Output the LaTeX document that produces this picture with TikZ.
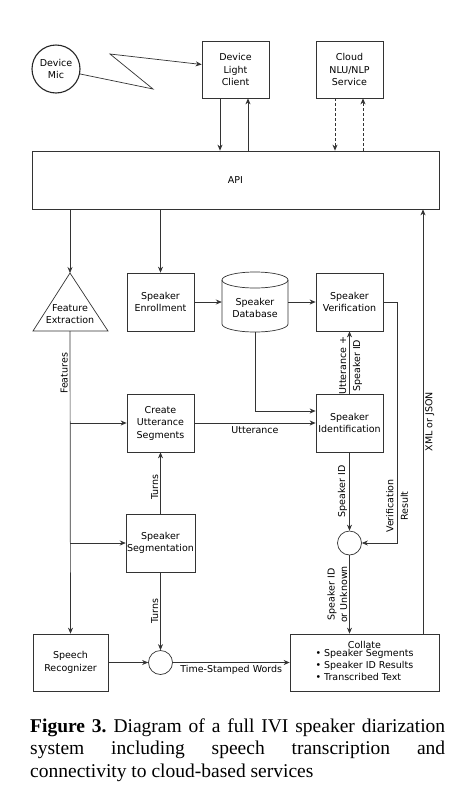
\documentclass[tikz,border=0pt]{standalone}
\usepackage{fontspec}
\setmainfont{Liberation Serif}
\newfontfamily\diagfont{DejaVu Sans}
\usetikzlibrary{arrows.meta,calc}
\tikzset{
  conn/.style={draw=black!80, line width=0.7pt},
  arr/.style={conn, -{Stealth[length=6pt,width=5pt]}},
  dasharr/.style={arr, dash pattern=on 3pt off 2pt},
  box/.style={draw=black!80, line width=0.7pt, minimum width=67pt, minimum height=58pt, align=center, inner sep=1pt},
  joint/.style={circle, draw=black!80, line width=0.7pt, minimum size=24pt, inner sep=0pt},
  lbl/.style={inner sep=2pt},
}
\begin{document}
\begin{tikzpicture}[x=1pt,y=-1pt, font=\diagfont\fontsize{9.5}{12.5}\selectfont]
\useasboundingbox[fill=white] (0,0) rectangle (474,793);

% top row
\node[circle, draw=black!85, line width=1.1pt, minimum size=48pt, inner sep=0pt, align=center] (mic) at (56,69) {Device\\Mic};
\node[box, minimum height=57pt] (dlc) at (235.5,69.5) {Device\\Light\\Client};
\node[box, minimum height=57pt] (cloud) at (349.5,69.5) {Cloud\\NLU/NLP\\Service};
\coordinate (z1) at (153,89);
\coordinate (z2) at (110,54);
\draw[arr] (mic) -- (z1) -- (z2) -- ($(dlc.west)+(0,-5)$);

% API
\node[box, minimum width=407pt, minimum height=58pt] (api) at (235.5,180) {API};

\draw[arr] ([xshift=-15.5pt]dlc.south) -- ([xshift=-15.5pt]dlc.south |- api.north);
\draw[arr] ([xshift=12.5pt]dlc.south |- api.north) -- ([xshift=12.5pt]dlc.south);
\draw[dasharr] ([xshift=-14.5pt]cloud.south) -- ([xshift=-14.5pt]cloud.south |- api.north);
\draw[dasharr] ([xshift=13.5pt]cloud.south |- api.north) -- ([xshift=13.5pt]cloud.south);

% feature extraction triangle
\coordinate (feTop) at (70,273);
\coordinate (feBot) at (70,331);
\draw[conn] (feTop) -- (108,331) -- (33,331) -- cycle;
\node[align=center, inner sep=0pt] (fe) at (70,314) {Feature\\Extraction};

% second row
\node[box] (enroll) at (160.5,302) {Speaker\\Enrollment};
\node[minimum width=66pt, minimum height=60pt, inner sep=0pt] (db) at (255,302) {};
\draw[conn] (222,280) -- (222,324) arc[start angle=180, end angle=0, x radius=33, y radius=8] -- (288,280);
\draw[conn] (255,280) ellipse [x radius=33, y radius=8];
\node[align=center, inner sep=0pt] (dbt) at (255,308) {Speaker\\Database};
\node[box] (ver) at (349.5,302) {Speaker\\Verification};

\draw[arr] (api.south -| feTop) -- (feTop);
\draw[arr] (api.south -| enroll.north) -- (enroll.north);
\draw[arr] (enroll.east) -- (db.west);
\draw[arr] (db.east) -- (ver.west);

% third row
\node[box] (cus) at (160.5,423) {Create\\Utterance\\Segments};
\node[box] (ident) at (349.5,423) {Speaker\\Identification};
\draw[arr] (ident.north) -- node[lbl, rotate=90, anchor=south, pos=.45, inner sep=3pt] {Utterance +}
                                node[lbl, rotate=90, anchor=north, pos=.45, inner sep=3pt] {Speaker ID} (ver.south);
\draw[arr] (db.south) |- ([yshift=12pt]ident.west);
\draw[arr] (cus.east) -- node[lbl, below, yshift=-1pt] {Utterance} (ident.west);

% segmentation
\node[box] (seg) at (160.5,543) {Speaker\\Segmentation};
\draw[arr] (seg.north) -- node[lbl, rotate=90, anchor=south, pos=.43] {Turns} (cus.south);

% joints
\node[joint] (c2) at (349.5,543) {};
\node[joint] (c1) at (160.5,662.5) {};
\draw[arr] (ident.south) -- node[lbl, rotate=90, anchor=south, pos=.5] {Speaker ID} (c2.north);
\draw[arr] (ver.east) -- ++(14,0) |- (c2.east);
\node[align=center, rotate=90, font=\diagfont\fontsize{9.5}{14.5}\selectfont] (vres) at (397,506) {Verification\\Result};

% bottom row
\node[box, minimum width=75pt, minimum height=57pt] (sr) at (70.5,662.5) {Speech\\Recognizer};
\node[box, minimum width=149pt, minimum height=57pt] (collate) at (364.5,662.5)
  {Collate\\[-1.5pt]\begin{tabular}{@{}l@{}}\textbullet{} Speaker Segments\\[-0.5pt] \textbullet{} Speaker ID Results\\[-0.5pt] \textbullet{} Transcribed Text\end{tabular}};

\draw[arr] (feBot) -- node[lbl, rotate=90, anchor=south, pos=.14] {Features} (sr.north);
\draw[arr] (cus.west -| feBot) -- (cus.west);
\draw[arr] (seg.west -| feBot) -- (seg.west);
\draw[arr] (seg.south) -- node[lbl, rotate=90, anchor=south, pos=.5] {Turns} (c1.north);
\draw[arr] (sr.east) -- (c1.west);
\draw[arr] (c1.east) -- node[lbl, below] {Time-Stamped Words} (collate.west);
\draw[arr] (c2.south) -- node[lbl, rotate=90, anchor=south, align=center, pos=.5] {Speaker ID\\or Unknown} (c2.south |- collate.north);
\draw[arr] ([xshift=58.5pt]collate.north) -- node[lbl, rotate=90, anchor=north, pos=.5] {XML or JSON} ([xshift=58.5pt]collate.north |- api.south);

% caption
\node[anchor=base west, text width=415pt, align=justify, inner sep=0pt,
      font=\rmfamily\frenchspacing\fontsize{19.5}{22.5}\selectfont] (cap) at (30,732)
  {\textbf{Figure 3.} Diagram of a full IVI speaker diarization\linebreak system including speech transcription and\linebreak connectivity to cloud-based services};
\end{tikzpicture}
\end{document}
